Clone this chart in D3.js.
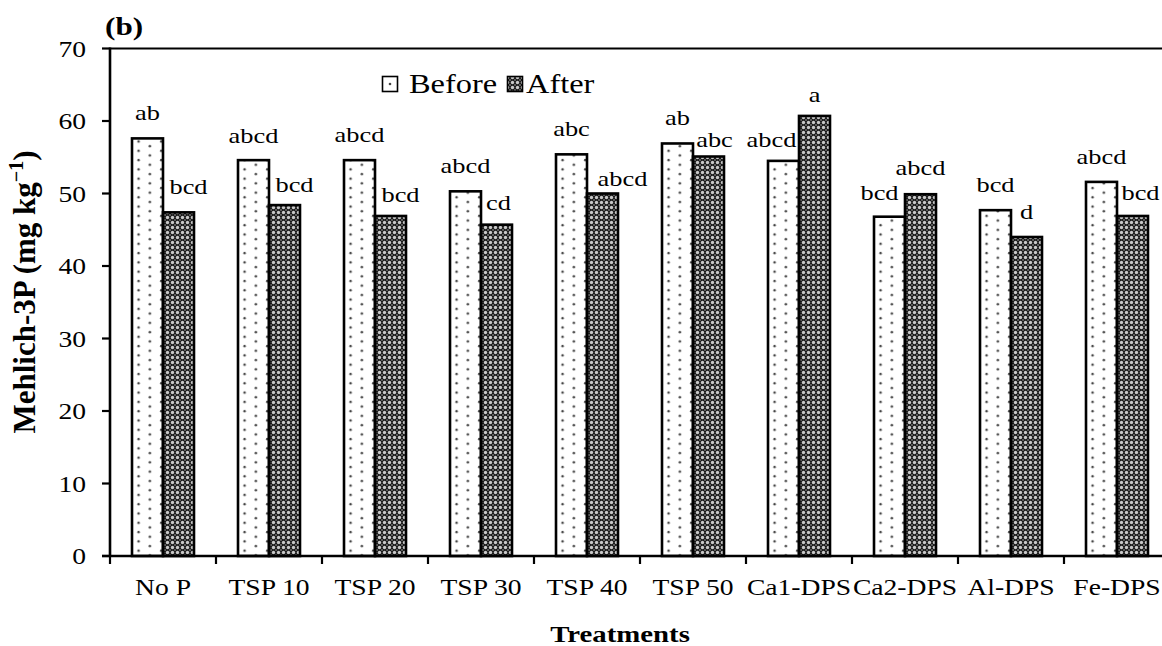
<!DOCTYPE html>
<html><head><meta charset="utf-8">
<script src="https://cdn.jsdelivr.net/npm/d3@7"></script>
<style>html,body{margin:0;padding:0;background:#fff;overflow:hidden}</style>
</head><body>
<svg id="chart" width="1162" height="646"></svg>
<script>
// ---- data ----
const categories = ["No P","TSP 10","TSP 20","TSP 30","TSP 40","TSP 50","Ca1-DPS","Ca2-DPS","Al-DPS","Fe-DPS"];
const seriesNames = ["Before","After"];
const beforeValues = [57.6,54.6,54.6,50.3,55.4,56.9,54.5,46.8,47.7,51.6];
const afterValues  = [47.4,48.4,46.9,45.7,50.0,55.1,60.7,49.9,44.0,46.9];
const beforeLetters = ["ab","abcd","abcd","abcd","abc","ab","abcd","bcd","bcd","abcd"];
const afterLetters  = ["bcd","bcd","bcd","cd","abcd","abc","a","abcd","d","bcd"];
const yTickValues = [0,10,20,30,40,50,60,70];

// ---- layout (label nudges, px) ----
const beforeNudge = [[0,0],[0,1],[0,0],[0,0],[0,0],[0,0],[-12,4],[-10,1],[0,0],[0,0]];
const afterNudge  = [[10,0],[10,4.5],[10,4],[2,3],[20,10],[6,8],[0,4],[0,-1],[0,0],[8,2]];

const svg = d3.select("#chart");
const serif = "'Liberation Serif','Times New Roman',serif";
const SX = 1.2; // horizontal text stretch

const x0 = d3.scaleBand().domain(categories).range([110,1170]).padding(0);
const x1 = d3.scaleBand().domain(seriesNames).range([0,x0.bandwidth()]).paddingInner(0).paddingOuter(0.71);
const y = d3.scaleLinear().domain([0,70]).range([556,48.5]);

// patterns
const defs = svg.append("defs");
const pd = defs.append("pattern").attr("id","dots").attr("patternUnits","userSpaceOnUse")
  .attr("width",22.6).attr("height",9.3);
pd.append("rect").attr("width",22.6).attr("height",9.3).attr("fill","#fff");
pd.append("circle").attr("cx",6).attr("cy",2).attr("r",1.2).attr("fill","#444");
pd.append("circle").attr("cx",17.3).attr("cy",6.65).attr("r",1.2).attr("fill","#444");

const pc = defs.append("pattern").attr("id","check").attr("patternUnits","userSpaceOnUse")
  .attr("width",5).attr("height",5);
pc.append("rect").attr("width",5).attr("height",5).attr("fill","#1a1a1a");
pc.append("circle").attr("cx",2.5).attr("cy",2.5).attr("r",1.7).attr("fill","#c8c8c8");
pc.append("circle").attr("cx",0).attr("cy",0).attr("r",0.9).attr("fill","#777");
pc.append("circle").attr("cx",5).attr("cy",0).attr("r",0.9).attr("fill","#777");
pc.append("circle").attr("cx",0).attr("cy",5).attr("r",0.9).attr("fill","#777");
pc.append("circle").attr("cx",5).attr("cy",5).attr("r",0.9).attr("fill","#777");

const fills = {Before:"url(#dots)", After:"url(#check)"};

function stretchedText(g, x, yy, txt, size, anchor, weight){
  return g.append("text")
    .attr("transform",`translate(${x},${yy}) scale(${SX},1)`)
    .attr("text-anchor",anchor)
    .attr("font-family",serif)
    .attr("font-size",size)
    .attr("font-weight",weight||"normal")
    .attr("fill","#000")
    .text(txt);
}

// bars
const rows = categories.map((c,i)=>({cat:c, vals:[
  {s:"Before", v:beforeValues[i], lab:beforeLetters[i], n:beforeNudge[i]},
  {s:"After",  v:afterValues[i],  lab:afterLetters[i],  n:afterNudge[i]}]}));

const groups = svg.append("g").selectAll("g").data(rows).join("g")
  .attr("transform",d=>`translate(${x0(d.cat)},0)`);
groups.selectAll("rect").data(d=>d.vals).join("rect")
  .attr("x",d=>x1(d.s)).attr("width",x1.bandwidth())
  .attr("y",d=>y(d.v)).attr("height",d=>y(0)-y(d.v))
  .attr("fill",d=>fills[d.s]).attr("stroke","#000").attr("stroke-width",2.6);

// bar letters
const labG = svg.append("g");
rows.forEach(r=>{
  r.vals.forEach(d=>{
    const cx = x0(r.cat)+x1(d.s)+x1.bandwidth()/2 + d.n[0];
    const cy = y(d.v) - 18 + d.n[1];
    stretchedText(labG, cx, cy, d.lab, 22, "middle");
  });
});

// axes
const axG = svg.append("g");
axG.append("line").attr("x1",110).attr("x2",1172).attr("y1",y(70)).attr("y2",y(70))
  .attr("stroke","#000").attr("stroke-width",2.2);
axG.append("line").attr("x1",110).attr("x2",110).attr("y1",y(70)-1).attr("y2",y(0)+1)
  .attr("stroke","#000").attr("stroke-width",2.6);
yTickValues.forEach(t=>{
  axG.append("line").attr("x1",102).attr("x2",110).attr("y1",y(t)).attr("y2",y(t))
    .attr("stroke","#000").attr("stroke-width",2.2);
  stretchedText(axG, 86, y(t)+8, d3.format("d")(t), 23, "end");
});
axG.append("line").attr("x1",102).attr("x2",1172).attr("y1",y(0)).attr("y2",y(0))
  .attr("stroke","#000").attr("stroke-width",2.6);
const bounds = categories.map(c=>x0(c)).concat([x0.range()[1]]);
bounds.forEach(b=>{
  axG.append("line").attr("x1",b).attr("x2",b).attr("y1",y(0)).attr("y2",y(0)+8)
    .attr("stroke","#000").attr("stroke-width",2.2);
});
categories.forEach(c=>{
  stretchedText(axG, x0(c)+x0.bandwidth()/2, 595, c, 23, "middle");
});

// axis titles
stretchedText(svg, 620, 642, "Treatments", 24, "middle", "bold");
const yt = svg.append("text")
  .attr("transform","translate(35,292) rotate(-90)")
  .attr("text-anchor","middle").attr("font-family",serif)
  .attr("font-size",31).attr("font-weight","bold");
yt.append("tspan").text("Mehlich-3P (mg kg");
yt.append("tspan").attr("dy",-12).attr("font-size",20).text("\u22121");
yt.append("tspan").attr("dy",12).text(")");

// panel label
stretchedText(svg, 105, 35, "(b)", 26, "start", "bold");

// legend
const lg = svg.append("g");
lg.append("rect").attr("x",382.5).attr("y",76.5).attr("width",15).attr("height",15)
  .attr("fill","#fff").attr("stroke","#000").attr("stroke-width",1.6);
lg.append("circle").attr("cx",390).attr("cy",84).attr("r",1.3).attr("fill","#444");
stretchedText(lg, 409, 93, "Before", 27, "start");
lg.append("rect").attr("x",507.5).attr("y",76.5).attr("width",15).attr("height",15)
  .attr("fill","url(#check)").attr("stroke","#000").attr("stroke-width",1.6);
stretchedText(lg, 526, 93, "After", 27, "start");
</script>
</body></html>
